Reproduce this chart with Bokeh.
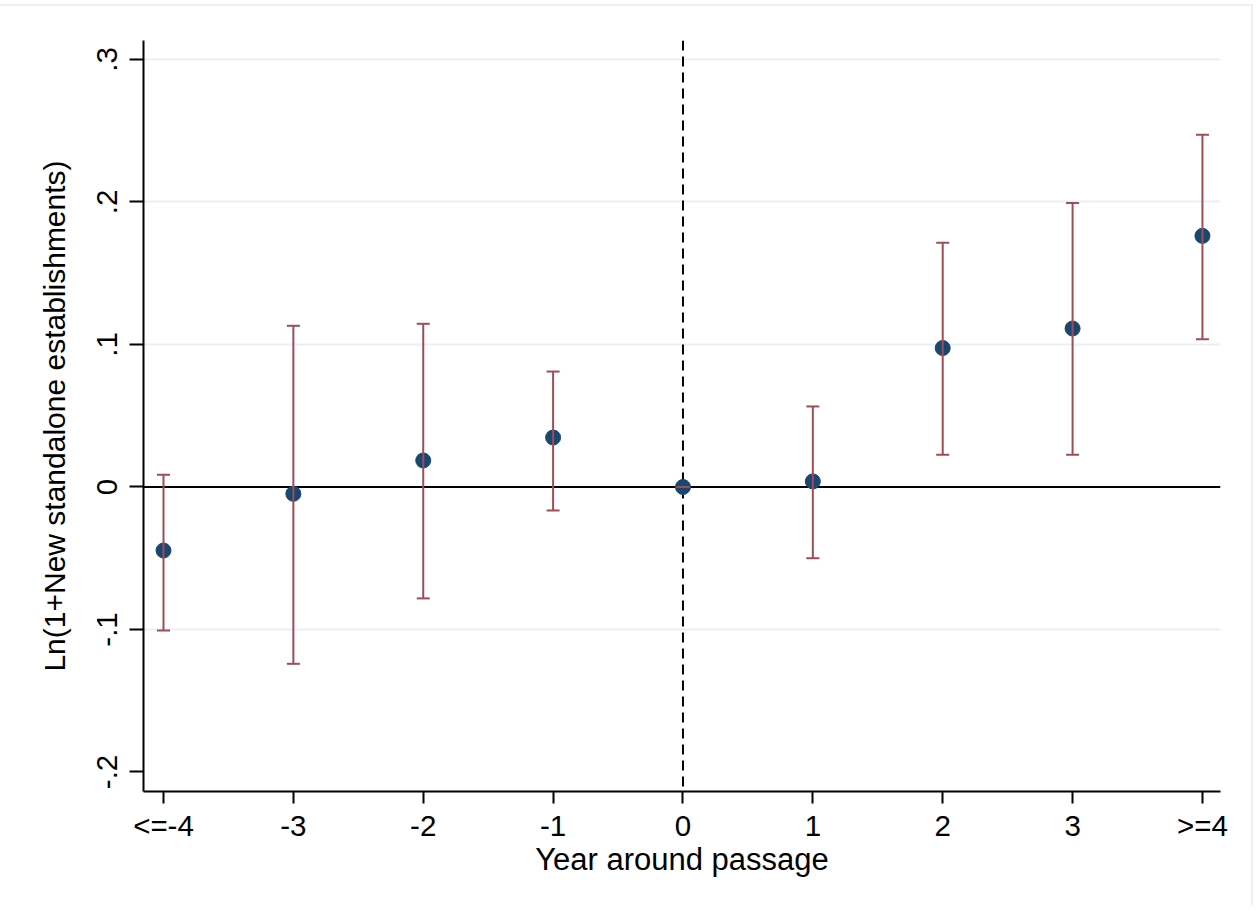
from bokeh.plotting import figure
from bokeh.models import FixedTicker, Span, Whisker, ColumnDataSource, TeeHead, Range1d
from bokeh.embed import file_html
from bokeh.resources import INLINE

# ---- data ----
tick_labels = ["<=-4", "-3", "-2", "-1", "0", "1", "2", "3", ">=4"]
years = [-4, -3, -2, -1, 0, 1, 2, 3, 4]
coef = [-0.0446, -0.0048, 0.0186, 0.0347, 0.0, 0.0039, 0.0975, 0.1112, 0.1762]
lower = [-0.1007, -0.1241, -0.0782, -0.0165, 0.0, -0.0500, 0.0226, 0.0226, 0.1037]
upper = [0.0086, 0.1131, 0.1145, 0.0810, 0.0, 0.0565, 0.1713, 0.1992, 0.2472]
y_ticks = [-0.2, -0.1, 0.0, 0.1, 0.2, 0.3]
y_tick_labels = ["-.2", "-.1", "0", ".1", ".2", ".3"]
grid_ticks = [-0.1, 0.1, 0.2, 0.3]

FONT = "Liberation Sans"
NAVY = "#1A476F"
MAROON = "#9E4C55"

src = ColumnDataSource(dict(x=years, y=coef, lo=lower, hi=upper))

p = figure(width=1253, height=901, output_backend="svg", toolbar_location=None,
           x_range=Range1d(-4.154, 4.139), y_range=Range1d(-0.2137, 0.3133),
           min_border_left=143, min_border_top=34, min_border_right=33, min_border_bottom=116)
p.outline_line_color = None
p.background_fill_color = "white"
p.border_fill_color = "white"
p.styles = {"margin-top": "4px", "border-top": "2px solid #EDF1F4", "border-right": "2px solid #EDF1F4"}

# axes
p.xaxis.ticker = FixedTicker(ticks=years)
p.xaxis.major_label_overrides = {yr: lab for yr, lab in zip(years, tick_labels)}
p.yaxis.ticker = FixedTicker(ticks=y_ticks)
p.yaxis.major_label_overrides = {t: lab for t, lab in zip(y_ticks, y_tick_labels)}
p.yaxis.major_label_orientation = "vertical"

for ax in (p.xaxis[0], p.yaxis[0]):
    ax.axis_line_color = "black"
    ax.axis_line_width = 2
    ax.major_tick_line_color = "black"
    ax.major_tick_line_width = 2
    ax.major_tick_in = 0
    ax.minor_tick_line_color = None
    ax.major_label_text_font = FONT
    ax.major_label_text_font_size = "29.5px"
    ax.major_label_text_color = "black"
    ax.axis_label_text_font = FONT
    ax.axis_label_text_font_style = "normal"
    ax.axis_label_text_color = "black"

p.xaxis.axis_label_text_font_size = "31px"
p.yaxis.axis_label_text_font_size = "30px"
p.xaxis.major_tick_out = 12
p.yaxis.major_tick_out = 14
p.xaxis.major_label_standoff = 5
p.yaxis.major_label_standoff = 12
p.xaxis.axis_label = "Year around passage"
p.yaxis.axis_label = "Ln(1+New standalone establishments)"
p.xaxis.axis_label_standoff = -3
p.yaxis.axis_label_standoff = 24

# grid
p.xgrid.grid_line_color = None
p.ygrid.ticker = FixedTicker(ticks=grid_ticks)
p.ygrid.grid_line_color = "#EAF0F3"
p.ygrid.grid_line_width = 2

# reference lines
p.add_layout(Span(location=0, dimension="width", line_color="black", line_width=2, level="underlay"))
p.add_layout(Span(location=0, dimension="height", line_color="black", line_width=2,
                  line_dash="10 6", level="underlay"))

# points
p.scatter("x", "y", source=src, size=15, fill_color=NAVY, line_color=NAVY, line_width=1)

# confidence intervals
w = Whisker(base="x", lower="lo", upper="hi", source=src, dimension="height",
            line_color=MAROON, line_width=2, level="annotation",
            lower_head=TeeHead(size=13, line_color=MAROON, line_width=2),
            upper_head=TeeHead(size=13, line_color=MAROON, line_width=2))
p.add_layout(w)

open("out.html", "w").write(file_html(p, INLINE))
